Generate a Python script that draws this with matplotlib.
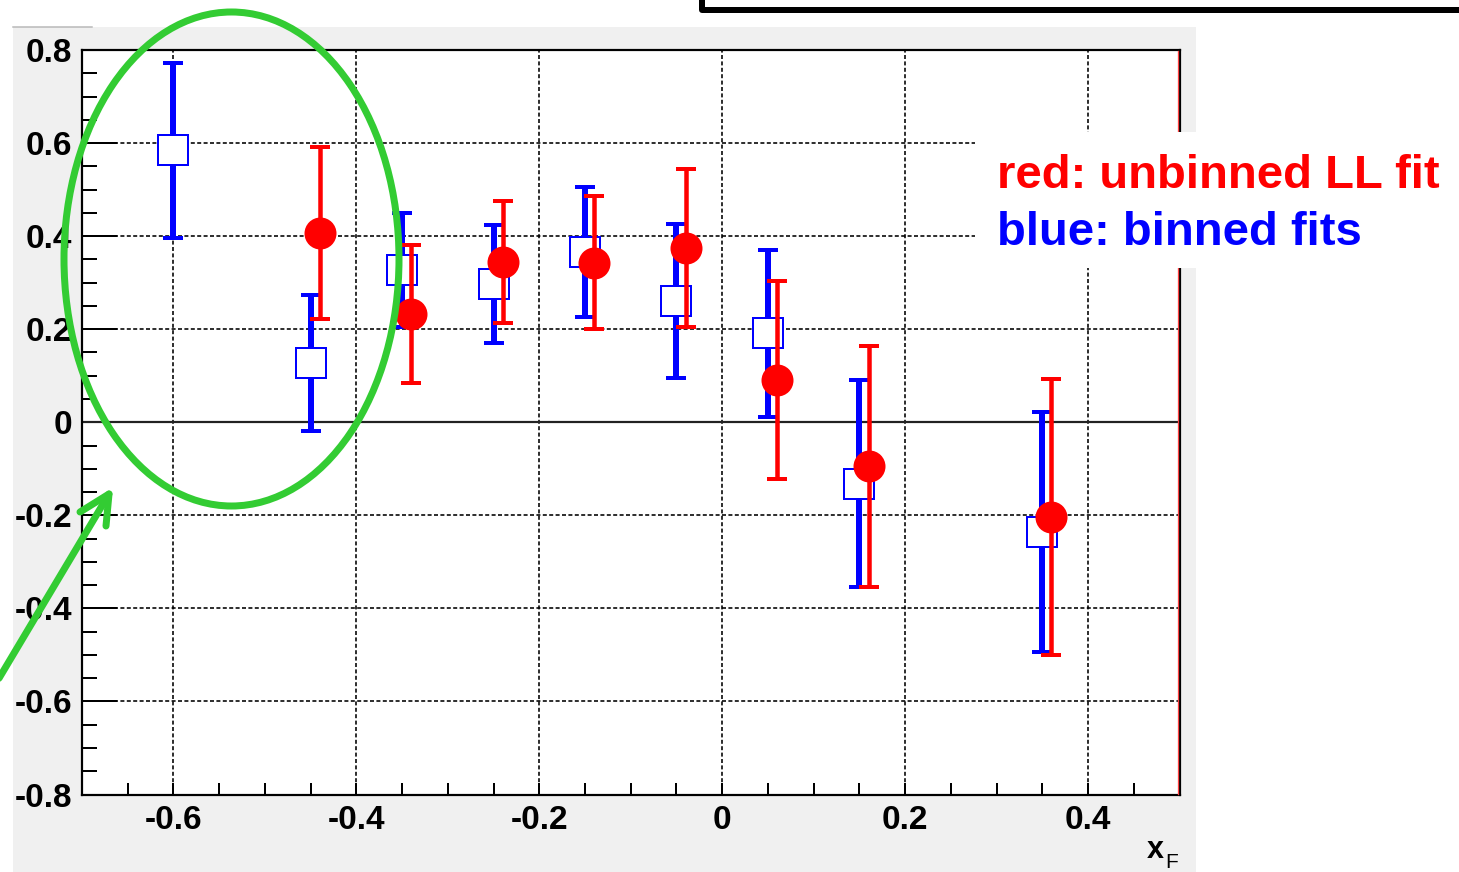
import matplotlib
matplotlib.use("Agg")
import matplotlib.pyplot as plt
from matplotlib.patches import Rectangle, Ellipse
from matplotlib.lines import Line2D
from matplotlib.ticker import MultipleLocator, FixedLocator

plt.rcParams['font.family'] = ['Liberation Sans', 'DejaVu Sans']

# ---------------- data ----------------
x_blue = [-0.60, -0.45, -0.35, -0.25, -0.15, -0.05, 0.05, 0.15, 0.35]
y_blue = [0.585, 0.127, 0.327, 0.297, 0.366, 0.261, 0.191, -0.132, -0.235]
e_blue = [0.188, 0.146, 0.123, 0.127, 0.140, 0.166, 0.180, 0.223, 0.258]

x_red = [-0.44, -0.34, -0.24, -0.14, -0.04, 0.06, 0.16, 0.36]
y_red = [0.406, 0.232, 0.345, 0.343, 0.374, 0.090, -0.095, -0.204]
e_red = [0.185, 0.148, 0.131, 0.143, 0.170, 0.213, 0.259, 0.297]

x_ticks = [-0.6, -0.4, -0.2, 0, 0.2, 0.4]
x_ticklabels = ['-0.6', '-0.4', '-0.2', '0', '0.2', '0.4']
y_ticks = [-0.8, -0.6, -0.4, -0.2, 0, 0.2, 0.4, 0.6, 0.8]
y_ticklabels = ['-0.8', '-0.6', '-0.4', '-0.2', '0', '0.2', '0.4', '0.6', '0.8']

legend_red = 'red: unbinned LL fit'
legend_blue = 'blue: binned fits'

# ---------------- figure ----------------
W, H = 1459, 872
DPI = 100
fig = plt.figure(figsize=(W / DPI, H / DPI), dpi=DPI)
fig.patch.set_facecolor('white')

PT = 72.0 / DPI  # points per pixel

# background pixel axes (grey ROOT canvas)
bg = fig.add_axes([0, 0, 1, 1], zorder=0)
bg.set_xlim(0, W)
bg.set_ylim(H, 0)
bg.axis('off')
bg.add_patch(Rectangle((13, 27), 1196 - 13, H - 27, facecolor='#f0f0f0', edgecolor='none'))
bg.add_line(Line2D([13, 92], [27.5, 27.5], color='#b8b8b8', lw=1.5 * PT))

# main axes
x0, x1 = 82, 1179.5
y0, y1 = 50, 794.5
ax = fig.add_axes([x0 / W, 1 - y1 / H, (x1 - x0) / W, (y1 - y0) / H], zorder=1)
ax.set_facecolor('white')
ax.set_xlim(-0.7, 0.5)
ax.set_ylim(-0.8, 0.8)

ax.xaxis.set_major_locator(FixedLocator(x_ticks))
ax.set_xticklabels(x_ticklabels)
ax.yaxis.set_major_locator(FixedLocator(y_ticks))
ax.set_yticklabels(y_ticklabels)
ax.xaxis.set_minor_locator(MultipleLocator(0.05))
ax.yaxis.set_minor_locator(MultipleLocator(0.05))

ax.tick_params(axis='both', which='both', direction='in', color='black',
               top=False, right=False)
ax.tick_params(axis='y', which='major', length=35 * PT, width=2 * PT, pad=10 * PT)
ax.tick_params(axis='y', which='minor', length=15 * PT, width=2 * PT)
ax.tick_params(axis='x', which='major', length=12 * PT, width=2 * PT, pad=10 * PT)
ax.tick_params(axis='x', which='minor', length=12 * PT, width=2 * PT)
for lab in ax.get_xticklabels() + ax.get_yticklabels():
    lab.set_fontsize(24)
    lab.set_fontweight('bold')
    lab.set_color('black')

for s in ['left', 'bottom', 'top', 'right']:
    ax.spines[s].set_color('black')
    ax.spines[s].set_linewidth(2.2 * PT)

ax.grid(True, which='major', color='black', linestyle=(0, (2.5, 1.5)), linewidth=1.6 * PT)
ax.set_axisbelow(True)
ax.axhline(0, color='#222222', linewidth=2.2 * PT, zorder=1.5)

# blue binned fits
ax.errorbar(x_blue, y_blue, yerr=e_blue, fmt='none', ecolor='#0000ff',
            elinewidth=6 * PT, capsize=10 * PT, capthick=4 * PT, zorder=3)
ax.plot(x_blue, y_blue, linestyle='none', marker='s', markersize=30 * PT,
        markerfacecolor='white', markeredgecolor='#0000ff', markeredgewidth=2 * PT, zorder=4)

# red unbinned LL fit
ax.errorbar(x_red, y_red, yerr=e_red, fmt='none', ecolor='#ff0000',
            elinewidth=4.5 * PT, capsize=10 * PT, capthick=4 * PT, zorder=5)
ax.plot(x_red, y_red, linestyle='none', marker='o', markersize=32 * PT,
        markerfacecolor='#ff0000', markeredgecolor='none', zorder=6)

# overlay pixel axes for annotations
ov = fig.add_axes([0, 0, 1, 1], zorder=2)
ov.set_xlim(0, W)
ov.set_ylim(H, 0)
ov.axis('off')
ov.patch.set_alpha(0)

# red inner line on right frame (below the legend box)
ov.add_line(Line2D([1177.5, 1177.5], [51, 794], color='#ff4040', lw=1.3 * PT, zorder=0.5))

# x-axis title
ov.text(1147, 858, 'x', fontsize=22, fontweight='bold', ha='left', va='baseline')
ov.text(1165, 868, 'F', fontsize=15, ha='left', va='baseline')

# top black box
ov.add_line(Line2D([702, 702, W + 5], [-5, 10, 10], color='black', lw=6 * PT,
                   solid_joinstyle='round', solid_capstyle='butt'))

# white legend box with texts
ov.add_patch(Rectangle((975, 132), W - 975, 268 - 132, facecolor='white',
                       edgecolor='none', zorder=1))
ov.text(997, 188, legend_red, color='#ff0000', fontsize=34, fontweight='bold',
        ha='left', va='baseline')
ov.text(997, 245, legend_blue, color='#0000ff', fontsize=34, fontweight='bold',
        ha='left', va='baseline')

# green ellipse and arrow
green = '#33cc33'
ov.add_patch(Ellipse((231.5, 259), 335, 494, facecolor='none', edgecolor=green,
                     lw=7 * PT, zorder=3))
ov.add_line(Line2D([-5, 109], [685, 494], color=green, lw=7 * PT,
                   solid_capstyle='round', zorder=3))
ov.add_line(Line2D([80, 109, 106], [512, 494, 526], color=green, lw=7 * PT,
                   solid_capstyle='round', solid_joinstyle='round', zorder=3))

fig.savefig('out.png', dpi=DPI)
